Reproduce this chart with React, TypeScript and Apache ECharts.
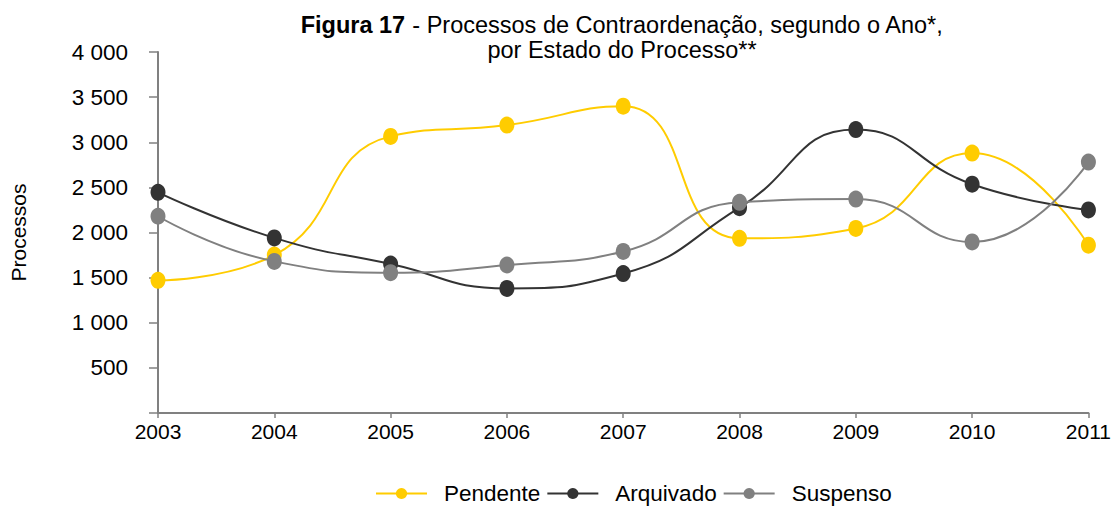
import React, { useEffect, useRef } from "react";
import * as echarts from "echarts";

const years = ["2003", "2004", "2005", "2006", "2007", "2008", "2009", "2010", "2011"];
const pendente = [1470, 1750, 3065, 3190, 3400, 1935, 2045, 2880, 1860];
const arquivado = [2445, 1940, 1650, 1380, 1545, 2275, 3140, 2535, 2250];
const suspenso = [2180, 1680, 1555, 1640, 1790, 2335, 2370, 1895, 2780];
const seriesNames = ["Pendente", "Arquivado", "Suspenso"];
const colors = ["#FFCC00", "#333333", "#808080"];

const fmt = (v: number) => {
  if (v === 0) return "";
  const s = String(v);
  return s.length > 3 ? s.slice(0, s.length - 3) + " " + s.slice(-3) : s;
};

export default function App() {
  const ref = useRef<HTMLDivElement>(null);
  useEffect(() => {
    const chart = echarts.init(ref.current!, null, { renderer: "svg" });
    const font = "Arial, 'Liberation Sans', sans-serif";
    const data = [pendente, arquivado, suspenso];
    chart.setOption({
      animation: false,
      backgroundColor: "#ffffff",
      textStyle: { fontFamily: font, color: "#000" },
      title: {
        text: "{b|Figura 17} - Processos de Contraordenação, segundo o Ano*,\npor Estado do Processo**",
        left: 617,
        top: 7,
        textAlign: "center",
        textStyle: {
          fontFamily: font,
          fontWeight: "normal",
          fontSize: 23.5,
          color: "#000",
          lineHeight: 25,
          rich: {
            b: { fontFamily: font, fontWeight: "bold", fontSize: 23.5, color: "#000", lineHeight: 25 },
          },
        },
      },
      legend: {
        top: 482,
        left: 375,
        padding: 0,
        itemWidth: 51,
        itemHeight: 14,
        itemGap: 6,
        textStyle: { fontFamily: font, fontSize: 22.5, color: "#000", padding: [0, 0, 0, 12] },
        data: seriesNames,
      },
      grid: { left: 153, right: 24, top: 52, bottom: 93, containLabel: false },
      xAxis: {
        type: "category",
        data: years,
        boundaryGap: false,
        axisLine: { lineStyle: { color: "#808080", width: 2 } },
        axisTick: { show: true, length: 5, lineStyle: { color: "#808080", width: 1.5 } },
        axisLabel: { color: "#000", fontSize: 21, margin: 8, fontFamily: font },
      },
      yAxis: {
        type: "value",
        min: 0,
        max: 4000,
        interval: 500,
        name: "Processos",
        nameLocation: "middle",
        nameRotate: 90,
        nameGap: 129,
        nameTextStyle: { fontSize: 21, color: "#000", fontFamily: font },
        axisLine: { show: true, lineStyle: { color: "#808080", width: 2 } },
        axisTick: { show: true, length: 9, lineStyle: { color: "#808080", width: 1.5 } },
        splitLine: { show: false },
        axisLabel: { color: "#000", fontSize: 22.5, margin: 30, fontFamily: font, formatter: fmt },
      },
      series: data.map((d, i) => ({
        name: seriesNames[i],
        type: "line",
        data: d,
        smooth: 0.5,
        symbol: "circle",
        symbolSize: [15, 17],
        color: colors[i],
        itemStyle: { color: colors[i] },
        lineStyle: { color: colors[i], width: 2 },
      })),
    });
    return () => chart.dispose();
  }, []);
  return (
    <div
      ref={ref}
      style={{ position: "fixed", left: 0, top: 0, width: 1114, height: 506 }}
    />
  );
}
